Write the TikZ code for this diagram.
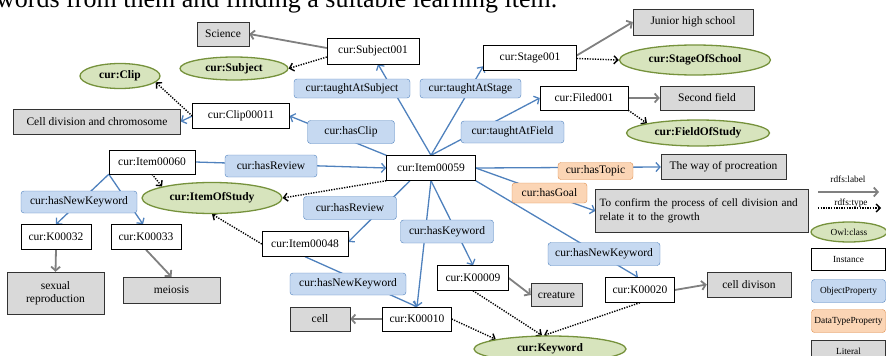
\documentclass[tikz,border=0pt]{standalone}
\usepackage{fontspec}
\setmainfont{Liberation Serif}
\usetikzlibrary{shapes.geometric, arrows.meta, backgrounds}
\definecolor{propline}{RGB}{79,129,189}
\definecolor{propfill}{RGB}{198,217,241}
\definecolor{dataline}{RGB}{222,140,75}
\definecolor{datafill}{RGB}{251,213,181}
\definecolor{clsline}{RGB}{118,146,60}
\definecolor{clsfill}{RGB}{215,228,189}
\definecolor{litfill}{RGB}{217,217,217}
\definecolor{lblgray}{RGB}{128,128,128}
\tikzset{
  sz/.style 2 args = {minimum width = #1pt, minimum height = #2pt},
  inst/.style = {
    shape = rectangle,
    draw = black, fill = white,
    inner sep = 0pt,
    font = \fontsize{11.5}{13}\selectfont,
  },
  lit/.style = {
    inst, fill = litfill, draw = black!80,
  },
  cls/.style = {
    shape = ellipse,
    draw = clsline, fill = clsfill, line width = 1.3pt,
    inner sep = 0pt,
    font = \fontsize{11.5}{13}\selectfont\bfseries,
  },
  oprop/.style = {
    inst, draw = propline, fill = propfill, rounded corners = 3pt,
  },
  dprop/.style = {
    inst, draw = dataline, fill = datafill, rounded corners = 3pt,
  },
  legend/.style = {font = \fontsize{9.3}{11}\selectfont},
}
\tikzset{
  rel/.style = {
    draw = propline, line width = 1.3pt, -{Straight Barb[length = 4pt, width = 9pt]},
  },
  lbl/.style = {
    draw = lblgray, line width = 1.8pt, -{Straight Barb[length = 4pt, width = 9pt]},
  },
  typ/.style = {
    draw = black, line width = 1.4pt, dash pattern = on 1.3pt off 1.3pt,
    -{Straight Barb[length = 4pt, width = 8pt]},
  },
}

\begin{document}
\begin{tikzpicture}[x = 1pt, y = -1pt]
    \path[use as bounding box, clip] (0,0) rectangle (886,356);
    \node[anchor = base west, inner sep = 0pt, font = \fontsize{26}{30}\selectfont](intro) at (-4,8)
        {words from them and finding a suitable learning item.};

    % classes
    \node[cls, sz = {108}{23}](subject) at (234,68.5){cur:Subject};
    \node[cls, sz = {80}{25}](clip) at (120,76){cur:Clip};
    \node[cls, sz = {151}{30}](stageOS) at (695,60){cur:StageOfSchool};
    \node[cls, sz = {143}{26}](fieldOS) at (698,133){cur:FieldOfStudy};
    \node[cls, sz = {140}{31}](itemOS) at (212,198){cur:ItemOfStudy};
    \node[cls, sz = {152}{26}](keyword) at (550,349){cur:Keyword};

    % instances
    \node[inst, sz = {92}{26}](sub001) at (373,51){cur:Subject001};
    \node[inst, sz = {93}{25}](stage001) at (530,57.5){cur:Stage001};
    \node[inst, sz = {88}{24}](filed001) at (584,98){cur:Filed001};
    \node[inst, sz = {97}{25}](clip11) at (241,116){cur:Clip00011};
    \node[inst, sz = {86}{24}](item60) at (152,162){cur:Item00060};
    \node[inst, sz = {89}{25}](item59) at (431,168){cur:Item00059};
    \node[inst, sz = {86}{25}](item48) at (305,244){cur:Item00048};
    \node[inst, sz = {70}{25}](k32) at (56,237){cur:K00032};
    \node[inst, sz = {70}{25}](k33) at (146,237){cur:K00033};
    \node[inst, sz = {71}{25}](k09) at (473,278){cur:K00009};
    \node[inst, sz = {69}{24}](k10) at (417,319){cur:K00010};
    \node[inst, sz = {69}{25}](k20) at (640,290){cur:K00020};

    % literals
    \node[lit, sz = {52}{24}](science) at (223,34){Science};
    \node[lit, sz = {120}{26}](junior) at (693,22){Junior high school};
    \node[lit, sz = {94}{24}](second) at (707,98){Second field};
    \node[lit, sz = {167}{25}](cellchr) at (97,121.5){Cell division and chromosome};
    \node[lit, sz = {125}{25}](procr) at (723.5,167){The way of procreation};
    \node[lit, sz = {213}{43}, inner xsep = 4pt, text width = 205pt, align = left,
        font = \fontsize{11.2}{14}\selectfont](goal) at (702,211)
        {To confirm the process of cell division and\\relate it to the growth};
    \node[lit, sz = {97}{42}, align = center](sexrep) at (55.5,293){sexual\\reproduction};
    \node[lit, sz = {97}{26}](meiosis) at (171.5,290){meiosis};
    \node[lit, sz = {51}{23}](creature) at (556.5,295){creature};
    \node[lit, sz = {60}{24}](cell) at (320,319){cell};
    \node[lit, sz = {84}{25}](celldiv) at (749,284.5){cell divison};

    % properties
    \node[oprop, sz = {116}{19}](pSubj) at (352,88.5){cur:taughtAtSubject};
    \node[oprop, sz = {101}{19}](pStage) at (470.5,88.5){cur:taughtAtStage};
    \node[oprop, sz = {87}{23}](pClip) at (351,132){cur:hasClip};
    \node[oprop, sz = {103}{22}](pField) at (512.5,132){cur:taughtAtField};
    \node[oprop, sz = {92}{22}](pRev1) at (271,166){cur:hasReview};
    \node[oprop, sz = {93}{23}](pRev2) at (350,208){cur:hasReview};
    \node[oprop, sz = {93}{23}](pKey) at (447,231.5){cur:hasKeyword};
    \node[oprop, sz = {116}{22}](pNew1) at (79,202){cur:hasNewKeyword};
    \node[oprop, sz = {116}{22}](pNew2) at (348,284){cur:hasNewKeyword};
    \node[oprop, sz = {112}{23}](pNew3) at (604,254){cur:hasNewKeyword};
    \node[dprop, sz = {75}{17}](pTopic) at (595.5,171){cur:hasTopic};
    \node[dprop, sz = {75}{20}](pGoal) at (549.5,193){cur:hasGoal};

    % legend
    \coordinate (lgA1) at (818,192);
    \coordinate (lgA2) at (879,192);
    \coordinate (lgB1) at (818,208);
    \coordinate (lgB2) at (881,208);
    \node[legend, inner sep = 0pt](lgLbl) at (848,179){rdfs:label};
    \node[legend, inner sep = 0pt](lgTyp) at (851,203){rdfs:type};
    \node[cls, legend, font = \fontsize{9.3}{11}\selectfont, sz = {76}{20}](lgCls) at (849,232){Owl:class};
    \node[inst, legend, sz = {74}{22}](lgInst) at (848.5,259){Instance};
    \node[oprop, legend, sz = {74}{23}](lgObj) at (848.5,291){ObjectProperty};
    \node[dprop, legend, sz = {74}{23}](lgData) at (848.5,321){DataTypeProperty};
    \node[lit, legend, sz = {74}{22}](lgLit) at (848.5,351){Literal};

    \begin{scope}[on background layer]
        % object and data properties
        \draw[rel](item59.north) -- ([xshift = 5pt]sub001.south);
        \draw[rel](item59.north) -- ([yshift = 4pt]stage001.south west);
        \draw[rel](item59.north west) -- (clip11.east);
        \draw[rel](item60.east) -- (item59.west);
        \draw[rel](item59.north) -- (filed001.west);
        \draw[rel](item59.east) -- (procr.west);
        \draw[rel](item59.east) -- (goal.west);
        \draw[rel](item59.south east) -- ([xshift = -2pt]k20.north);
        \draw[rel]([xshift = -21pt]item59.south) -- ([yshift = 2pt]item48.east);
        \draw[rel](item59.south) -- (k10.north);
        \draw[rel](item59.south) -- (k09.north);
        \draw[rel](item48.south) -- (k10.north);
        \draw[rel](item60.south west) -- (k32.north);
        \draw[rel](item60.south west) -- ([xshift = -3pt]k33.north);
        \draw[rel](clip11.west) -- (cellchr.east);
        % rdfs:label
        \draw[lbl]([yshift = 3pt]sub001.west) -- (science.east);
        \draw[lbl]([yshift = 2pt]stage001.east) -- (junior.west);
        \draw[lbl](filed001.east) -- (second.west);
        \draw[lbl](k32.south) -- (sexrep.north);
        \draw[lbl](k33.south) -- (meiosis.north);
        \draw[lbl](k09.east) -- (creature.west);
        \draw[lbl](k10.west) -- (cell.east);
        \draw[lbl](k20.east) -- (celldiv.west);
        % rdfs:type
        \draw[typ]([yshift = -6pt]sub001.west) -- (subject.east);
        \draw[typ]([yshift = -1pt]stage001.east) -- (stageOS.west);
        \draw[typ](filed001.south east) -- (fieldOS.north west);
        \draw[typ](clip11.west) -- (clip.-10);
        \draw[typ](item60.south) -- (itemOS.north west);
        \draw[typ](item59.south west) -- (itemOS.east);
        \draw[typ](item48.west) -- (itemOS.south);
        \draw[typ](k10.east) -- (keyword.north west);
        \draw[typ](k09.south) -- ([xshift = -8pt]keyword.north);
        \draw[typ](k20.south) -- ([xshift = -6pt]keyword.north);
        % legend
        \draw[lbl](lgA1) -- (lgA2);
        \draw[typ](lgB1) -- (lgB2);
    \end{scope}
\end{tikzpicture}
\end{document}
